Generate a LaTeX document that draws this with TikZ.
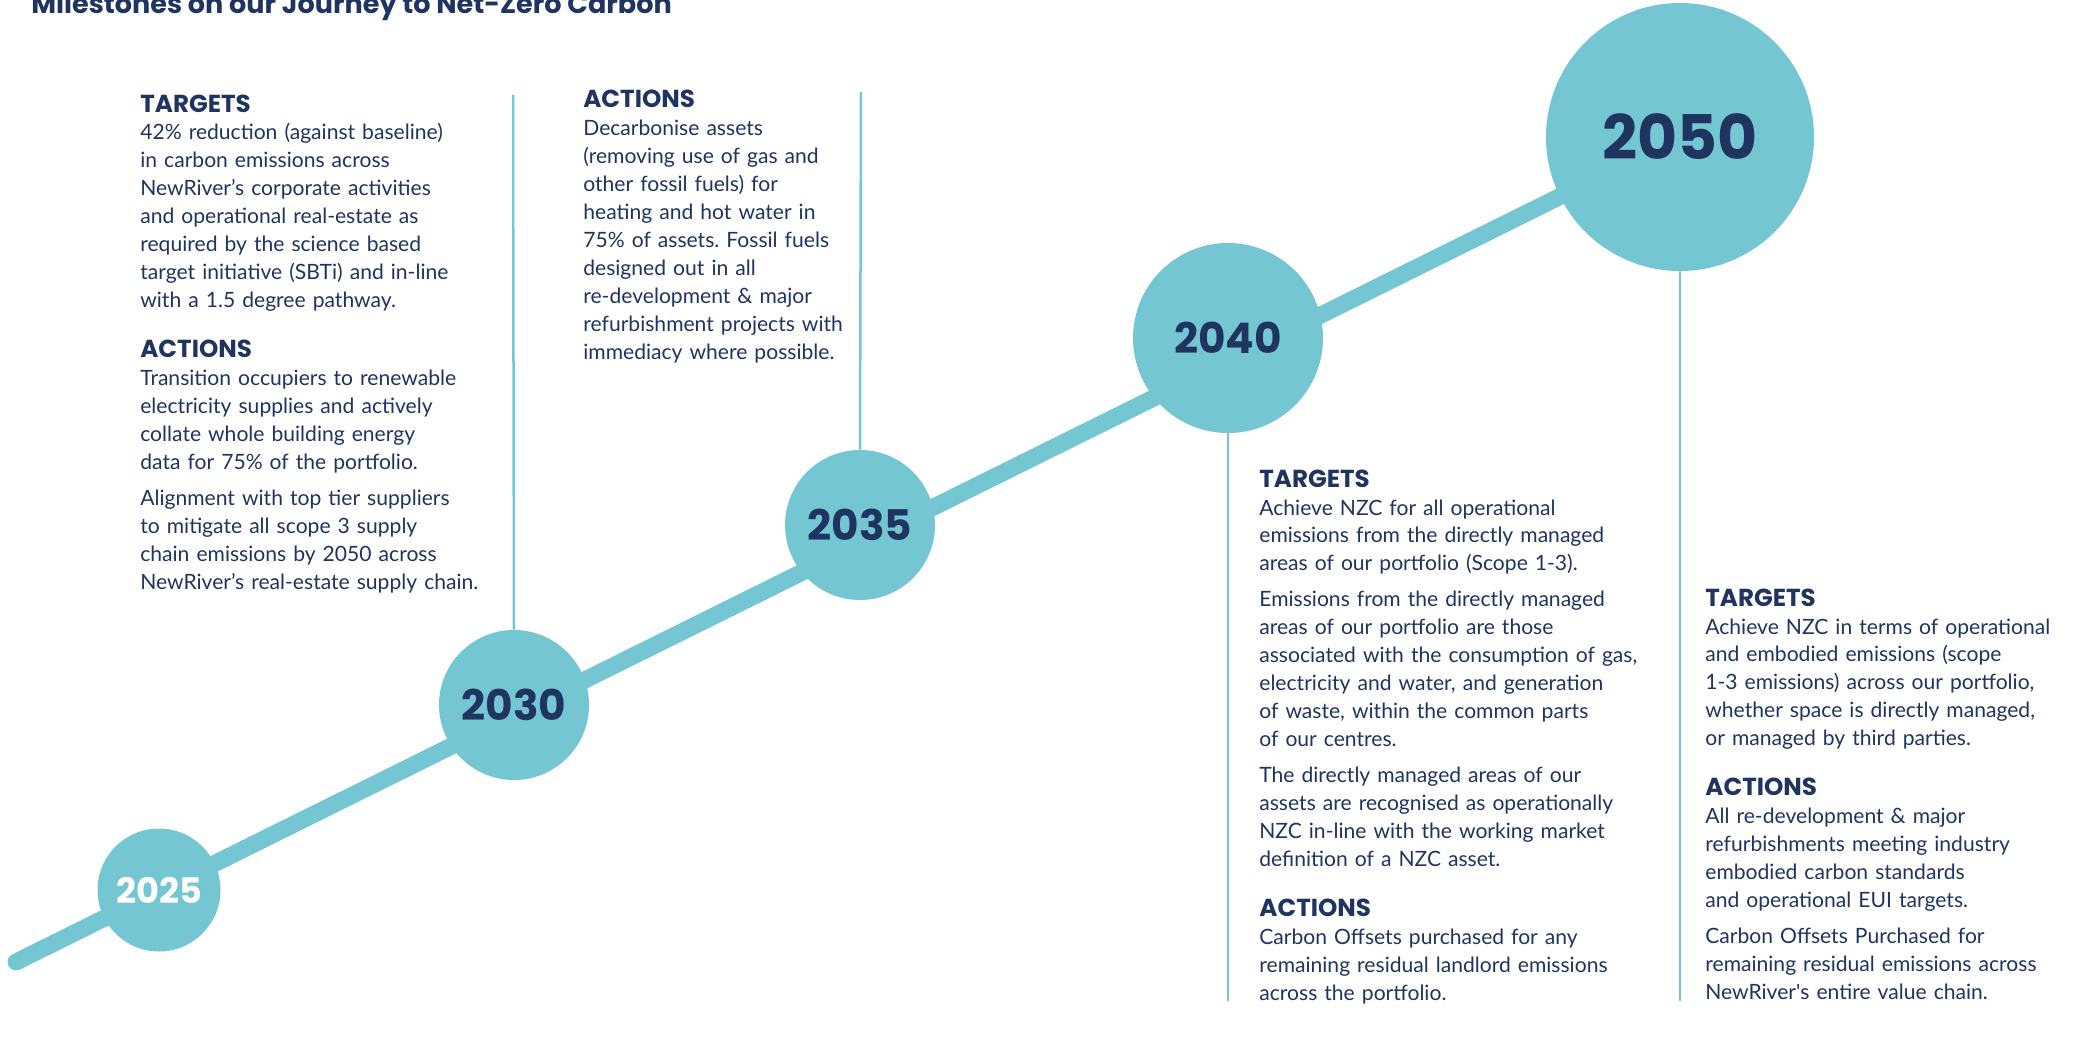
\documentclass[tikz,border=0pt]{standalone}
\usepackage{fontspec}
\usetikzlibrary{backgrounds}
\setmainfont{Lato}
\newfontfamily\poppins{Poppins}
\definecolor{nrnavy}{HTML}{1F3461}
\definecolor{nrteal}{HTML}{74C7D2}
\frenchspacing
\newcommand{\bodyfont}{\fontsize{12}{15.93}\selectfont}
\newcommand{\headfont}{\poppins\bfseries\fontsize{14}{15.93}\selectfont}
\newcommand{\yearfont}{\poppins\bfseries\fontsize{24}{24}\selectfont}
\newcommand{\hd}[1]{{\headfont #1}}
\tikzset{
  ball/.style={circle, fill=nrteal, text=nrnavy, font=\yearfont},
  stem/.style={draw=nrteal, line width=0.05cm},
  block/.style={anchor=base west, align=left, text width=9cm, text=nrnavy, font=\bodyfont},
}
\begin{document}
\begin{tikzpicture}[scale=0.2]
\tikzstyle{every node}+=[inner sep=0pt]
\useasboundingbox (0,0) rectangle (209.3,-104.2);
\node [anchor=base west, text=nrnavy, font=\poppins\bfseries\fontsize{15.4}{15.4}\selectfont] (title) at (3.1,-1.4) {Milestones on our Journey to Net-Zero Carbon};
% milestones
\node [ball, minimum size=2.46cm, text=white, font=\poppins\bfseries\fontsize{20}{20}\selectfont] (y2025) at (15.9,-89.0) {2025};
\node [ball, minimum size=3cm] (y2030) at (51.4,-70.5) {2030};
\node [ball, minimum size=3cm] (y2035) at (86.0,-52.5) {2035};
\node [ball, minimum size=3.8cm] (y2040) at (122.8,-33.8) {2040};
\node [ball, minimum size=5.36cm, font=\poppins\bfseries\fontsize{35}{35}\selectfont] (y2050) at (168.0,-13.7) {2050};
% timeline
\coordinate (start) at (1.6,-96.2);
\begin{scope}[on background layer]
\draw [nrteal, line width=0.34cm, line cap=round] (start) -- (y2050.center);
\end{scope}
\coordinate (top30) at (51.3,-9.5);
\coordinate (top35) at (86.1,-9.2);
\coordinate (bot40) at (122.8,-100.1);
\coordinate (bot50) at (168.0,-100.1);
\draw [stem] (y2030.north) -- (top30);
\draw [stem] (y2035.north) -- (top35);
\draw [stem] (y2040.south) -- (bot40);
\draw [stem] (y2050.south) -- (bot50);
% texts
\node [block] (t2030) at (14.0,-11.2) {\hd{TARGETS}\\
42\% reduction (against baseline)\\
in carbon emissions across\\
NewRiver’s corporate activities\\
and operational real-estate as\\
required by the science based\\
target initiative (SBTi) and in-line\\
with a 1.5 degree pathway.\\[12.5pt]
\hd{ACTIONS}\\
Transition occupiers to renewable\\
electricity supplies and actively\\
collate whole building energy\\
data for 75\% of the portfolio.\\[4.55pt]
Alignment with top tier suppliers\\
to mitigate all scope 3 supply\\
chain emissions by 2050 across\\
NewRiver’s real-estate supply chain.};
\node [block] (t2035) at (58.3,-10.8) {\hd{ACTIONS}\\
Decarbonise assets\\
(removing use of gas and\\
other fossil fuels) for\\
heating and hot water in\\
75\% of assets. Fossil fuels\\
designed out in all\\
re-development \& major\\
refurbishment projects with\\
immediacy where possible.};
\node [block] (t2040) at (125.9,-48.7) {\hd{TARGETS}\\
Achieve NZC for all operational\\
emissions from the directly managed\\
areas of our portfolio (Scope 1-3).\\[4.55pt]
Emissions from the directly managed\\
areas of our portfolio are those\\
associated with the consumption of gas,\\
electricity and water, and generation\\
of waste, within the common parts\\
of our centres.\\[4.55pt]
The directly managed areas of our\\
assets are recognised as operationally\\
NZC in-line with the working market\\
definition of a NZC asset.\\[12.5pt]
\hd{ACTIONS}\\
Carbon Offsets purchased for any\\
remaining residual landlord emissions\\
across the portfolio.};
\node [block] (t2050) at (170.5,-60.6) {\hd{TARGETS}\\
Achieve NZC in terms of operational\\
and embodied emissions (scope\\
1-3 emissions) across our portfolio,\\
whether space is directly managed,\\
or managed by third parties.\\[12.5pt]
\hd{ACTIONS}\\
All re-development \& major\\
refurbishments meeting industry\\
embodied carbon standards\\
and operational EUI targets.\\[4.55pt]
Carbon Offsets Purchased for\\
remaining residual emissions across\\
NewRiver\textquotesingle s entire value chain.};
\end{tikzpicture}
\end{document}
